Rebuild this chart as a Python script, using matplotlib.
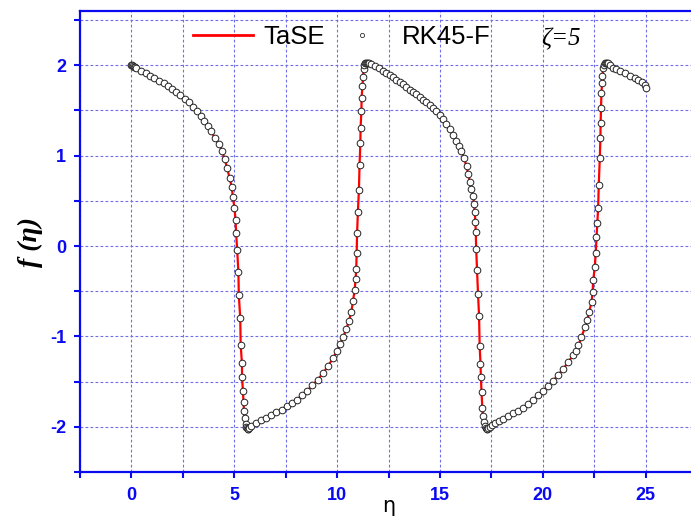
import numpy as np
import matplotlib
matplotlib.use('Agg')
import matplotlib.pyplot as plt
from matplotlib.ticker import MultipleLocator
from matplotlib.lines import Line2D

plt.rcParams['axes.unicode_minus'] = False

# values (eta, f(eta))
eta = [
    0.0, 0.03, 0.07, 0.12, 0.17, 0.23, 0.47, 0.71, 0.92, 1.12, 1.36, 1.56, 1.77, 1.98, 2.17,
    2.38, 2.58, 2.79, 2.98, 3.18, 3.39, 3.55, 3.71, 3.88, 4.04, 4.25, 4.41, 4.53, 4.66, 4.77,
    4.88, 4.93, 5.01, 5.06, 5.09, 5.14,
    5.2, 5.22, 5.29, 5.31, 5.37, 5.38, 5.42, 5.45, 5.47, 5.5, 5.55, 5.59, 5.62, 5.65, 5.68, 5.72,
    5.8, 6.05, 6.3, 6.55, 6.8, 7.05, 7.3, 7.55, 7.8, 8.05, 8.3, 8.55, 8.8, 9.05, 9.3, 9.55,
    9.8, 10.0, 10.15, 10.28, 10.45, 10.57, 10.69, 10.77, 10.85, 10.9, 10.93, 10.95, 10.97,
    11.01, 11.06, 11.09, 11.13, 11.14, 11.18, 11.19, 11.23, 11.26, 11.29, 11.33, 11.37, 11.41,
    11.45, 11.5, 11.56,
    11.65, 11.82, 12.03, 12.23, 12.39, 12.55, 12.72, 12.88, 13.04, 13.2, 13.37, 13.53, 13.69,
    13.85, 14.01, 14.17, 14.34, 14.5, 14.67, 14.83, 14.99, 15.15, 15.31, 15.47, 15.64, 15.8,
    15.92, 16.04, 16.17, 16.29, 16.37, 16.45, 16.53, 16.61, 16.66, 16.69, 16.72, 16.74, 16.76,
    16.8, 16.85, 16.9, 16.93, 16.97, 16.99, 17.02, 17.06, 17.09, 17.14, 17.19, 17.23, 17.27,
    17.31, 17.35, 17.42,
    17.54, 17.66, 17.86, 18.07, 18.31, 18.55, 18.8, 19.04, 19.29, 19.53, 19.77, 20.01, 20.26,
    20.5, 20.75, 20.99, 21.23, 21.47, 21.6, 21.72, 21.88, 22.04, 22.16, 22.25, 22.37, 22.42,
    22.45, 22.53, 22.57, 22.61, 22.65, 22.69, 22.72, 22.77, 22.8, 22.81, 22.83, 22.85, 22.88,
    22.9, 22.93, 22.97, 23.01, 23.05, 23.1, 23.16, 23.25,
    23.42, 23.58, 23.74, 23.98, 24.22, 24.47, 24.63, 24.8, 24.95, 25.0,
]
f_eta = [
    2.0, 2.0, 1.99, 1.985, 1.98, 1.97, 1.94, 1.91, 1.88, 1.86, 1.83, 1.80, 1.77, 1.74, 1.70,
    1.67, 1.63, 1.59, 1.54, 1.49, 1.44, 1.38, 1.33, 1.27, 1.20, 1.13, 1.05, 0.96, 0.86, 0.75,
    0.65, 0.54, 0.42, 0.29, 0.14, -0.04,
    -0.29, -0.54, -0.80, -1.09, -1.29, -1.45, -1.60, -1.73, -1.82, -1.90, -1.97, -2.0, -2.01,
    -2.02, -2.02, -2.01,
    -1.99, -1.96, -1.93, -1.90, -1.87, -1.84, -1.81, -1.77, -1.74, -1.70, -1.65, -1.60, -1.54,
    -1.48, -1.41, -1.33, -1.24, -1.16, -1.08, -1.01, -0.92, -0.83, -0.73, -0.61, -0.49, -0.36,
    -0.25, -0.08, 0.14,
    0.38, 0.62, 0.90, 1.14, 1.31, 1.49, 1.64, 1.77, 1.87, 1.96, 2.0, 2.02, 2.03,
    2.03, 2.03, 2.02,
    2.01, 1.99, 1.965, 1.94, 1.915, 1.89, 1.865, 1.84, 1.815, 1.79, 1.76, 1.73, 1.705,
    1.68, 1.65, 1.62, 1.59, 1.56, 1.525, 1.49, 1.445, 1.40, 1.345, 1.29, 1.225, 1.16,
    1.105, 1.05, 0.97, 0.88, 0.80, 0.71, 0.63, 0.55, 0.46, 0.38, 0.27, 0.16, -0.03,
    -0.26, -0.53, -0.77, -1.11, -1.30, -1.45, -1.62, -1.79, -1.88, -1.95, -1.99, -2.01, -2.02,
    -2.02, -2.01, -2.0,
    -1.98, -1.96, -1.935, -1.91, -1.88, -1.85, -1.82, -1.79, -1.745, -1.70, -1.65, -1.60, -1.545,
    -1.49, -1.425, -1.36, -1.285, -1.21, -1.16, -1.10, -1.01, -0.90, -0.82, -0.73, -0.62, -0.51,
    -0.38, -0.23, -0.08, 0.10, 0.26, 0.42, 0.68, 0.97, 1.20, 1.36, 1.53, 1.69, 1.80,
    1.88, 1.97, 2.0, 2.02, 2.03, 2.03, 2.02, 2.0,
    1.97, 1.955, 1.94, 1.91, 1.88, 1.86, 1.835, 1.81, 1.78, 1.75,
]

blue = '#0a0af0'
grid_blue = '#6e6ee6'

fig = plt.figure(figsize=(6.91, 5.17), dpi=100)
# right edge of the axes sits just outside the picture, as in the reference
ax = fig.add_axes([0.1158, 0.087, 0.893, 0.8917])

ax.plot(eta, f_eta, color='red', lw=1.6, zorder=3)
ax.plot(eta, f_eta, ls='none', marker='o', ms=4.8, mfc='white', mec='#222222', mew=0.7, zorder=4)

ax.set_xlim(-2.5, 27.5)
ax.set_ylim(-2.5, 2.6)
ax.xaxis.set_major_locator(MultipleLocator(5))
ax.xaxis.set_minor_locator(MultipleLocator(2.5))
ax.yaxis.set_major_locator(MultipleLocator(1))
ax.yaxis.set_minor_locator(MultipleLocator(0.5))

ax.grid(True, which='both', color=grid_blue, ls=(0, (2.5, 2)), lw=0.8)
ax.set_axisbelow(True)

for s in ax.spines.values():
    s.set_color(blue)
    s.set_linewidth(1.6)

ax.tick_params(which='both', direction='out', length=4, width=1.5, color=blue)
ax.tick_params(axis='both', labelcolor=blue, labelsize=13)
ax.tick_params(axis='x', pad=7)
ax.tick_params(axis='y', pad=6)
for lbl in ax.get_xticklabels() + ax.get_yticklabels():
    lbl.set_fontweight('bold')
    lbl.set_family('Liberation Sans')

ax.set_xlabel('η', fontsize=15, family='DejaVu Sans', labelpad=-6)
ax.set_ylabel('f (η)', fontsize=20, family='Liberation Serif', fontweight='bold',
              fontstyle='italic', labelpad=5)

handles = [
    Line2D([], [], color='red', lw=2),
    Line2D([], [], ls='none', marker='o', ms=3, mfc='white', mec='#333333', mew=0.6),
]
leg = ax.legend(handles, ['TaSE', 'RK45-F'], ncol=2, frameon=False, loc='center left',
                bbox_to_anchor=(0.183, 0.944), borderpad=0, borderaxespad=0,
                handlelength=2.35, handletextpad=0.4, columnspacing=0.25,
                prop={'family': 'Liberation Sans', 'size': 18.5})

ax.text(0.78, 0.938, 'ζ=5', transform=ax.transAxes, ha='center', va='center',
        fontsize=18, family='Liberation Serif', fontstyle='italic')

fig.savefig('out.png', dpi=100)
